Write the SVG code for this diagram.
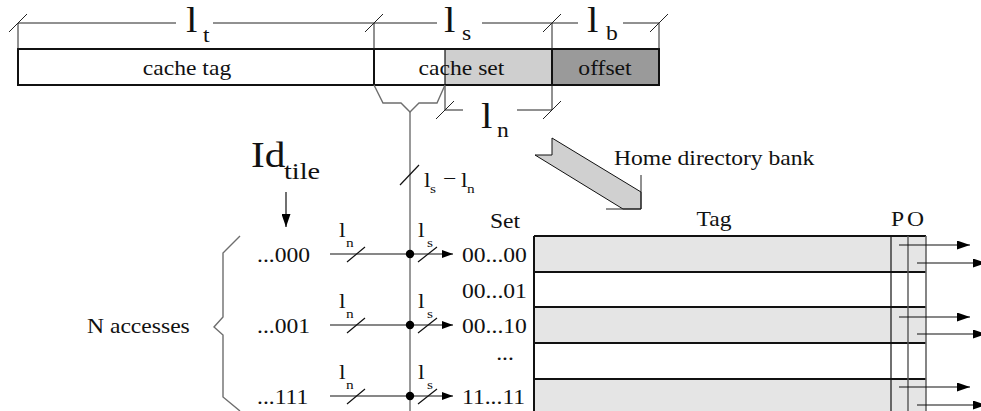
<svg xmlns="http://www.w3.org/2000/svg" width="981" height="411" viewBox="0 0 981 411">
  <style>
    text { font-family: "Liberation Serif", "Times New Roman", serif; fill: #111; }
    .lbl { font-size: 20px; }
    .mid { text-anchor: middle; }
    .big { font-size: 35px; }
    .sub { font-size: 20px; }
    .sm { font-size: 20px; }
    .smsub { font-size: 13px; }
    .dim { stroke: #222; stroke-width: 1; fill: none; }
    .thick { stroke: #111; stroke-width: 2; }
    .grey { stroke: #6e6e6e; stroke-width: 1.4; fill: none; }
    .wire { stroke: #111; stroke-width: 1.2; fill: none; }
    .row { stroke: #111; stroke-width: 2; }
    .shade { fill: #e5e5e5; }
  </style>
  <defs>
    <marker id="ah" markerWidth="12" markerHeight="8" refX="11" refY="4" orient="auto" markerUnits="userSpaceOnUse">
      <path d="M0,0 L11,4 L0,8 Z" fill="#000"/>
    </marker>
    <marker id="ahl" markerWidth="14" markerHeight="9" refX="13" refY="4.5" orient="auto" markerUnits="userSpaceOnUse">
      <path d="M0,0 L13,4.5 L0,9 Z" fill="#000"/>
    </marker>
  </defs>

  <!-- address fields -->
  <g id="field-tag">
    <rect x="18" y="49" width="356" height="36" fill="#fff" class="thick"/>
    <text class="lbl mid" transform="translate(187,75) scale(1.18 1)">cache tag</text>
  </g>
  <g id="field-set">
    <rect x="374" y="49" width="71" height="36" fill="#fff" stroke="none"/>
    <rect x="445" y="49" width="107" height="36" fill="#cfcfcf" stroke="none"/>
    <rect x="374" y="49" width="178" height="36" fill="none" class="thick"/>
    <line x1="445" y1="49" x2="445" y2="85" stroke="#111" stroke-width="1.2"/>
    <text class="lbl mid" transform="translate(461.5,75) scale(1.18 1)">cache set</text>
  </g>
  <g id="field-offset">
    <rect x="552" y="49" width="107" height="36" fill="#9a9a9a" class="thick"/>
    <text class="lbl mid" transform="translate(605,75) scale(1.18 1)">offset</text>
  </g>

  <!-- field widths -->
  <g id="dimensions">
    <path class="dim" d="M18,23 H176 M213,23 H374 M374,23 H437 M482,23 H552 M552,23 H578 M623,23 H659"/>
    <path class="dim" d="M18,23 V49 M374,23 V49 M552,23 V49 M659,23 V49"/>
    <path class="dim" d="M9,32 L27,14 M365,32 L383,14 M543,32 L561,14 M650,32 L668,14"/>
    <path class="dim" d="M445,85 V110 M552,85 V110 M445,110 H463 M517,110 H552 M436,119 L454,101 M543,119 L561,101"/>
    <text class="big" transform="translate(186,32) scale(1.18 1)">l</text>
    <text class="sub" transform="translate(203,42) scale(1.18 1)">t</text>
    <text class="big" transform="translate(444,32) scale(1.18 1)">l</text>
    <text class="sub" transform="translate(462,40) scale(1.18 1)">s</text>
    <text class="big" transform="translate(587,32) scale(1.18 1)">l</text>
    <text class="sub" transform="translate(606,40) scale(1.18 1)">b</text>
    <text class="big" transform="translate(481,128) scale(1.18 1)">l</text>
    <text class="sub" transform="translate(497,137) scale(1.18 1)">n</text>
  </g>

  <g id="tile-id">
    <text class="big" transform="translate(251,167) scale(1.18 1)">Id</text>
    <text class="sub" font-size="24" transform="translate(284,179) scale(1.18 1)" style="font-size:24px">tile</text>
  </g>

  <g id="home-bank">
    <polygon points="552,138 641,192 641,209 623,209 535,155 552,155" fill="#d0d0d0" stroke="#111" stroke-width="1"/>
    <path class="dim" d="M606,209 H641 V175"/>
    <text class="lbl" transform="translate(614,165) scale(1.18 1)">Home directory bank</text>
  </g>

  <g id="n-accesses">
    <path class="grey" d="M240,236 L223,253 V317 L214,327 L223,335 V397 L240,411"/>
    <text class="lbl" transform="translate(87,333) scale(1.18 1)">N accesses</text>
  </g>

  <g id="tile-labels">
    <text class="lbl" transform="translate(257,262) scale(1.18 1)">...000</text>
    <text class="lbl" transform="translate(257,333) scale(1.18 1)">...001</text>
    <text class="lbl" transform="translate(257,404) scale(1.18 1)">...111</text>
  </g>

  <g id="set-labels">
    <text class="lbl mid" transform="translate(505,228) scale(1.18 1)">Set</text>
    <text class="lbl" transform="translate(462,262) scale(1.18 1)">00...00</text>
    <text class="lbl" transform="translate(462,298) scale(1.18 1)">00...01</text>
    <text class="lbl" transform="translate(462,333) scale(1.18 1)">00...10</text>
    <text class="lbl mid" transform="translate(505,360) scale(1.18 1)">...</text>
    <text class="lbl" transform="translate(462,404) scale(1.18 1)">11...11</text>
  </g>

  <!-- directory table -->
  <g id="directory">
    <rect x="534" y="236" width="392" height="36" class="shade"/>
    <rect x="534" y="307" width="392" height="36" class="shade"/>
    <rect x="534" y="379" width="392" height="40" class="shade"/>
    <path class="row" d="M534,236 H926 M534,272 H926 M534,307 H926 M534,343 H926 M534,379 H926"/>
    <path class="row" d="M534,236 V411"/>
    <path d="M891,236 V411" stroke="#111" stroke-width="1.2"/>
    <path d="M908,236 V411" stroke="#555" stroke-width="1.4"/>
    <path d="M926,236 V411" stroke="#666" stroke-width="1.6"/>
    <text class="lbl mid" transform="translate(714,226) scale(1.18 1)">Tag</text>
    <text class="lbl" transform="translate(891,226) scale(1.18 1)">P</text>
    <text class="lbl" transform="translate(907,226) scale(1.18 1)">O</text>
  </g>

  <g id="connectors">
    <!-- set index split -->
    <path class="grey" d="M374,85 L383,103 H401 L410,112 L419,103 H437 L445,85"/>
    <path class="grey" d="M410,112 V411"/>
    <path class="wire" d="M400,185 L419,165"/>
    <text class="sm" transform="translate(424,187) scale(1.18 1)">l</text>
    <text class="smsub" transform="translate(430,193) scale(1.18 1)">s</text>
    <text class="sm" transform="translate(443,185) scale(1.18 1)">−</text>
    <text class="sm" transform="translate(461,187) scale(1.18 1)">l</text>
    <text class="smsub" transform="translate(467,193) scale(1.18 1)">n</text>

    <!-- tile id arrow -->
    <line x1="286" y1="192" x2="286" y2="227" class="wire" marker-end="url(#ahl)"/>

    <!-- access rows -->
    <g id="row-0">
      <line x1="330" y1="254" x2="453" y2="254" class="wire" marker-end="url(#ah)"/>
      <path class="wire" d="M347,262 L365,247 M418,262 L437,247"/>
      <circle cx="410" cy="254" r="4.2" fill="#000"/>
      <text class="sm" transform="translate(339,237) scale(1.18 1)">l</text>
      <text class="smsub" transform="translate(346,247) scale(1.18 1)">n</text>
      <text class="sm" transform="translate(418,237) scale(1.18 1)">l</text>
      <text class="smsub" transform="translate(427,247) scale(1.18 1)">s</text>
    </g>
    <g id="row-1">
      <line x1="330" y1="325" x2="453" y2="325" class="wire" marker-end="url(#ah)"/>
      <path class="wire" d="M347,333 L365,318 M418,333 L437,318"/>
      <circle cx="410" cy="325" r="4.2" fill="#000"/>
      <text class="sm" transform="translate(339,308) scale(1.18 1)">l</text>
      <text class="smsub" transform="translate(346,318) scale(1.18 1)">n</text>
      <text class="sm" transform="translate(418,308) scale(1.18 1)">l</text>
      <text class="smsub" transform="translate(427,318) scale(1.18 1)">s</text>
    </g>
    <g id="row-2">
      <line x1="330" y1="396" x2="453" y2="396" class="wire" marker-end="url(#ah)"/>
      <path class="wire" d="M347,404 L365,389 M418,404 L437,389"/>
      <circle cx="410" cy="396" r="4.2" fill="#000"/>
      <text class="sm" transform="translate(339,379) scale(1.18 1)">l</text>
      <text class="smsub" transform="translate(346,389) scale(1.18 1)">n</text>
      <text class="sm" transform="translate(418,379) scale(1.18 1)">l</text>
      <text class="smsub" transform="translate(427,389) scale(1.18 1)">s</text>
    </g>

    <!-- presence / owner outputs -->
    <line x1="899" y1="245" x2="970" y2="245" class="wire" marker-end="url(#ahl)"/>
    <line x1="917" y1="263" x2="986" y2="263" class="wire" stroke="#555" marker-end="url(#ahl)"/>
    <line x1="899" y1="317" x2="970" y2="317" class="wire" marker-end="url(#ahl)"/>
    <line x1="917" y1="334" x2="986" y2="334" class="wire" stroke="#555" marker-end="url(#ahl)"/>
    <line x1="899" y1="387" x2="970" y2="387" class="wire" marker-end="url(#ahl)"/>
    <line x1="917" y1="405" x2="986" y2="405" class="wire" stroke="#555" marker-end="url(#ahl)"/>
  </g>
</svg>
